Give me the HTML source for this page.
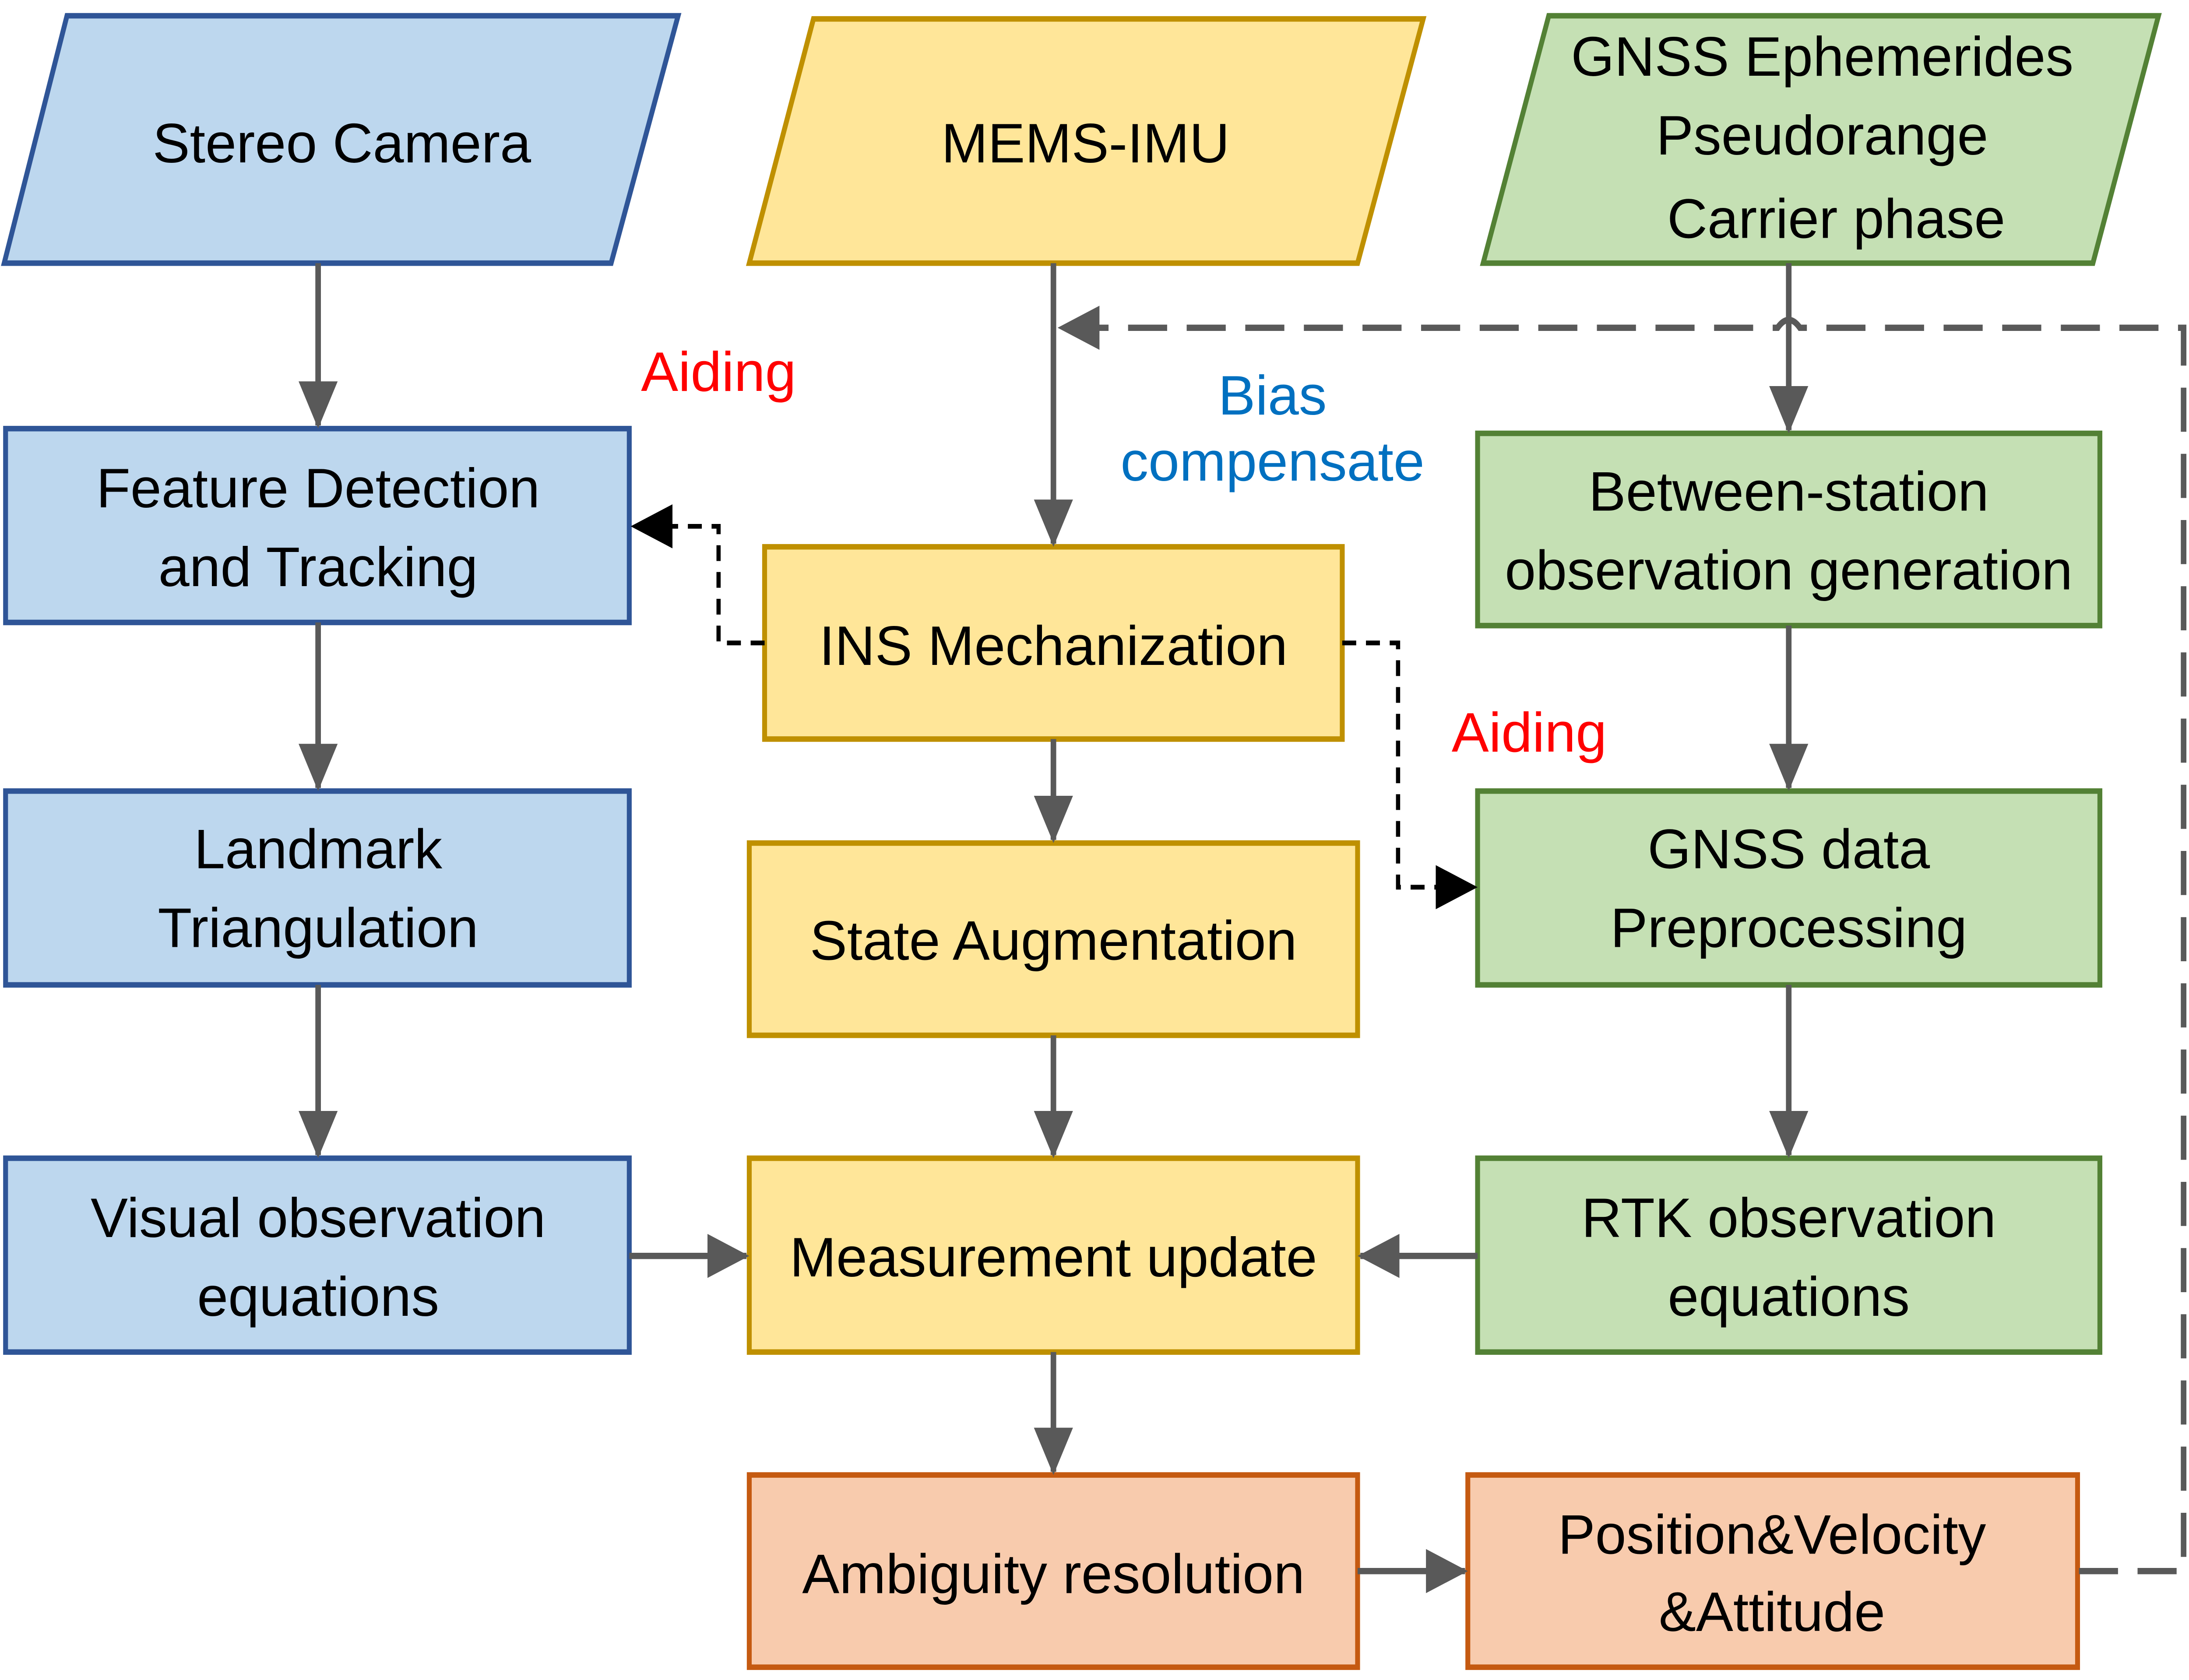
<!DOCTYPE html>
<html><head><meta charset="utf-8"><style>html,body{margin:0;padding:0;background:#fff;overflow:hidden}svg{display:block;position:absolute;left:0;top:0}</style></head>
<body>
<svg width="5000" height="3838" xmlns="http://www.w3.org/2000/svg" font-family="Liberation Sans, sans-serif" font-size="40" text-anchor="middle">
<defs>
<marker id="ag" markerWidth="30" markerHeight="28" refX="28" refY="14" orient="auto" markerUnits="userSpaceOnUse" viewBox="0 0 30 28"><path d="M0,0 L30,14 L0,28 z" fill="#595959"/></marker>
<marker id="ab" markerWidth="30" markerHeight="28" refX="28" refY="14" orient="auto" markerUnits="userSpaceOnUse" viewBox="0 0 30 28"><path d="M0,0 L30,14 L0,28 z" fill="#000"/></marker>
</defs>
<g transform="scale(3.187,3.600)">
<g stroke-width="3.5">
<polygon points="48,10 486,10 438,167 3,167" fill="#bdd7ee" stroke="#2f5597"/>
<polygon points="583,12 1020,12 973,167 537,167" fill="#ffe699" stroke="#bf9000"/>
<polygon points="1110,10 1547,10 1500,167 1063,167" fill="#c5e0b4" stroke="#538135"/>
<rect x="4" y="272" width="447" height="123" fill="#bdd7ee" stroke="#2f5597"/>
<rect x="4" y="502" width="447" height="123" fill="#bdd7ee" stroke="#2f5597"/>
<rect x="4" y="735" width="447" height="123" fill="#bdd7ee" stroke="#2f5597"/>
<rect x="548" y="347" width="414" height="122" fill="#ffe699" stroke="#bf9000"/>
<rect x="537" y="535" width="436" height="122" fill="#ffe699" stroke="#bf9000"/>
<rect x="537" y="735" width="436" height="123" fill="#ffe699" stroke="#bf9000"/>
<rect x="537" y="936" width="436" height="122" fill="#f8cbad" stroke="#c55a11"/>
<rect x="1052" y="936" width="437" height="122" fill="#f8cbad" stroke="#c55a11"/>
<rect x="1059" y="275" width="446" height="122" fill="#c5e0b4" stroke="#538135"/>
<rect x="1059" y="502" width="446" height="123" fill="#c5e0b4" stroke="#538135"/>
<rect x="1059" y="735" width="446" height="123" fill="#c5e0b4" stroke="#538135"/>
</g>
<g stroke="#595959" stroke-width="4" fill="none">
<line x1="228" y1="167" x2="228" y2="270" marker-end="url(#ag)"/>
<line x1="228" y1="395" x2="228" y2="500" marker-end="url(#ag)"/>
<line x1="228" y1="625" x2="228" y2="733" marker-end="url(#ag)"/>
<line x1="451" y1="797" x2="535" y2="797" marker-end="url(#ag)"/>
<line x1="755" y1="167" x2="755" y2="345" marker-end="url(#ag)"/>
<line x1="755" y1="469" x2="755" y2="533" marker-end="url(#ag)"/>
<line x1="755" y1="657" x2="755" y2="733" marker-end="url(#ag)"/>
<line x1="755" y1="858" x2="755" y2="934" marker-end="url(#ag)"/>
<line x1="973" y1="997" x2="1050" y2="997" marker-end="url(#ag)"/>
<line x1="1282" y1="167" x2="1282" y2="273" marker-end="url(#ag)"/>
<line x1="1282" y1="397" x2="1282" y2="500" marker-end="url(#ag)"/>
<line x1="1282" y1="625" x2="1282" y2="733" marker-end="url(#ag)"/>
<line x1="1059" y1="797" x2="975" y2="797" marker-end="url(#ag)"/>
<path d="M1490,997 L1565,997 L1565,208 L1290,208 Q1282,198 1274,208 L760,208" stroke-dasharray="28,14" marker-end="url(#ag)"/>
</g>
<g stroke="#000" stroke-width="3" fill="none" stroke-dasharray="10,7">
<path d="M548,408 L515,408 L515,334 L454,334" marker-end="url(#ab)"/>
<path d="M962,408 L1002,408 L1002,563 L1057,563" marker-end="url(#ab)"/>
</g>
<g fill="#000">
<text transform="translate(245,103) scale(1,0.885)">Stereo Camera</text>
<text transform="translate(778,103) scale(1,0.885)">MEMS-IMU</text>
<text transform="translate(1306,48) scale(1,0.885)">GNSS Ephemerides</text>
<text transform="translate(1306,98) scale(1,0.885)">Pseudorange</text>
<text transform="translate(1316,151) scale(1,0.885)">Carrier phase</text>
<text transform="translate(228,322) scale(1,0.885)">Feature Detection</text>
<text transform="translate(228,372) scale(1,0.885)">and Tracking</text>
<text transform="translate(228,551) scale(1,0.885)">Landmark</text>
<text transform="translate(228,601) scale(1,0.885)">Triangulation</text>
<text transform="translate(228,785) scale(1,0.885)">Visual observation</text>
<text transform="translate(228,835) scale(1,0.885)">equations</text>
<text transform="translate(755,422) scale(1,0.885)">INS Mechanization</text>
<text transform="translate(755,609) scale(1,0.885)">State Augmentation</text>
<text transform="translate(755,810) scale(1,0.885)">Measurement update</text>
<text transform="translate(755,1011) scale(1,0.885)">Ambiguity resolution</text>
<text transform="translate(1270,986) scale(1,0.885)">Position&amp;Velocity</text>
<text transform="translate(1270,1035) scale(1,0.885)">&amp;Attitude</text>
<text transform="translate(1282,324) scale(1,0.885)">Between-station</text>
<text transform="translate(1282,374) scale(1,0.885)">observation generation</text>
<text transform="translate(1282,551) scale(1,0.885)">GNSS data</text>
<text transform="translate(1282,601) scale(1,0.885)">Preprocessing</text>
<text transform="translate(1282,785) scale(1,0.885)">RTK observation</text>
<text transform="translate(1282,835) scale(1,0.885)">equations</text>
</g>
<text transform="translate(515,248) scale(1,0.885)" fill="#ff0000">Aiding</text>
<text transform="translate(1096,477) scale(1,0.885)" fill="#ff0000">Aiding</text>
<text transform="translate(912,263) scale(1,0.885)" fill="#0070c0">Bias</text>
<text transform="translate(912,305) scale(1,0.885)" fill="#0070c0">compensate</text>
</g>
</svg>
</body></html>
